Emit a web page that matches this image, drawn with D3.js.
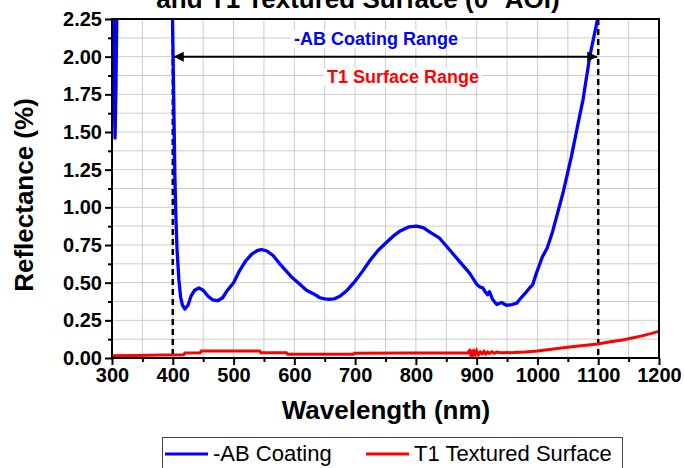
<!DOCTYPE html>
<html>
<head>
<meta charset="utf-8">
<script src="https://cdn.jsdelivr.net/npm/d3@7"></script>
<style>
  body { margin: 0; background: #fff; }
  svg { display: block; font-family: Arial, "Liberation Sans", sans-serif; }
</style>
</head>
<body>
<div class="container"></div>
<script>
var SVG_WIDTH = 684, SVG_HEIGHT = 468;

// -AB coating reflectance (wavelength nm, %)
var coatingWl = [300, 302, 303.5, 305, 306.5, 308, 312, 396, 399, 400.5, 402, 403.5, 405, 407, 410, 413, 416, 420,
  425, 430, 436, 443, 450, 458, 466, 474, 482, 490, 500, 510, 520, 530, 540, 546, 555, 565, 575, 585, 595,
  609, 620, 632, 642, 650, 657, 665, 675, 687, 699, 712, 725, 738, 751, 763, 775, 788, 801, 812, 825, 839,
  855, 872, 888, 900, 906, 910, 914, 918, 921, 926, 933, 941, 949, 958, 966, 971, 980, 988, 992, 998,
  1008, 1016, 1025, 1033, 1042, 1056, 1067, 1075, 1086, 1099, 1103];
var coatingR = [3.0, 2.3, 1.8, 1.46, 1.8, 2.3, 3.2, 3.2, 2.4, 2.0, 1.6, 1.2, 0.95, 0.72, 0.52, 0.40, 0.35, 0.325,
  0.35, 0.41, 0.45, 0.465, 0.45, 0.41, 0.385, 0.38, 0.40, 0.45, 0.50, 0.58, 0.645, 0.69, 0.715, 0.72, 0.71, 0.68, 0.63, 0.585, 0.54,
  0.49, 0.45, 0.425, 0.40, 0.392, 0.39, 0.392, 0.41, 0.45, 0.505, 0.575, 0.65, 0.715, 0.765, 0.81, 0.845, 0.87, 0.875, 0.865, 0.83, 0.795,
  0.72, 0.64, 0.565, 0.49, 0.47, 0.465, 0.44, 0.42, 0.44, 0.39, 0.355, 0.368, 0.35, 0.355, 0.364, 0.39, 0.43, 0.47, 0.485, 0.56,
  0.67, 0.73, 0.84, 0.96, 1.095, 1.34, 1.56, 1.715, 2.0, 2.25, 2.35];

// T1 textured surface reflectance
var surfaceWl = [300, 340, 380, 418, 420, 445, 447, 543, 545, 587, 589, 697, 699, 790, 885,
  888, 890, 892, 894, 896, 898, 900, 903, 906, 909, 912, 915, 918, 921, 925, 929, 933,
  940, 960, 980, 1000, 1020, 1036, 1060, 1080, 1099, 1120, 1140, 1152, 1170, 1185, 1198, 1200];
var surfaceR = [0.015, 0.017, 0.02, 0.022, 0.033, 0.035, 0.047, 0.047, 0.035, 0.035, 0.025, 0.025, 0.031, 0.033, 0.033,
  0.048, 0.022, 0.055, 0.018, 0.043, 0.026, 0.047, 0.022, 0.04, 0.028, 0.043, 0.026, 0.04, 0.03, 0.041, 0.031, 0.039,
  0.035, 0.036, 0.04, 0.047, 0.056, 0.065, 0.077, 0.085, 0.093, 0.108, 0.12, 0.13, 0.145, 0.16, 0.175, 0.178];

var xTicks = [300, 400, 500, 600, 700, 800, 900, 1000, 1100, 1200];
var yTicks = [0, 0.25, 0.5, 0.75, 1.0, 1.25, 1.5, 1.75, 2.0, 2.25];
var rangeLimits = [400, 1100];
var seriesNames = ["-AB Coating", "T1 Textured Surface"];

var PLOT_L = 112, PLOT_T = 19, PLOT_R = 659, PLOT_B = 358;

var svg = d3.select(".container").append("svg")
    .attr("width", SVG_WIDTH)
    .attr("height", SVG_HEIGHT);

var x = d3.scaleLinear().domain([300, 1200]).range([PLOT_L, PLOT_R]);
var y = d3.scaleLinear().domain([0, 2.25]).range([PLOT_B, PLOT_T]);

svg.append("clipPath").attr("id", "plot-clip")
  .append("rect")
    .attr("x", PLOT_L).attr("y", PLOT_T)
    .attr("width", PLOT_R - PLOT_L).attr("height", PLOT_B - PLOT_T);

// grid
var grid = svg.append("g").attr("stroke", "#cccccc").attr("stroke-width", 1);
grid.selectAll("line.v").data(d3.range(350, 1200, 50)).enter().append("line")
    .attr("x1", function (d) { return x(d); }).attr("x2", function (d) { return x(d); })
    .attr("y1", PLOT_T).attr("y2", PLOT_B);
grid.selectAll("line.h").data(d3.range(0.125, 2.25, 0.125)).enter().append("line")
    .attr("y1", function (d) { return y(d); }).attr("y2", function (d) { return y(d); })
    .attr("x1", PLOT_L).attr("x2", PLOT_R);

// range markers
svg.selectAll("line.limit").data(rangeLimits).enter().append("line")
    .attr("x1", function (d) { return x(d); }).attr("x2", function (d) { return x(d); })
    .attr("y1", PLOT_T).attr("y2", PLOT_B)
    .attr("stroke", "#000").attr("stroke-width", 2.5)
    .attr("stroke-dasharray", "6,4");

var line = d3.line()
    .x(function (d) { return x(d[0]); })
    .y(function (d) { return y(d[1]); });

var plot = svg.append("g").attr("clip-path", "url(#plot-clip)");
plot.append("path")
    .datum(d3.zip(surfaceWl, surfaceR))
    .attr("fill", "none").attr("stroke", "#ff0000").attr("stroke-width", 3)
    .attr("d", line);
plot.append("path")
    .datum(d3.zip(coatingWl, coatingR))
    .attr("fill", "none").attr("stroke", "#0000ff").attr("stroke-width", 3.3)
    .attr("stroke-linejoin", "round")
    .attr("d", line);

// double arrow
var defs = svg.append("defs");
defs.append("marker").attr("id", "head")
    .attr("viewBox", "0 0 10 10").attr("refX", 10).attr("refY", 5)
    .attr("markerWidth", 7).attr("markerHeight", 5)
    .attr("markerUnits", "strokeWidth")
    .attr("orient", "auto-start-reverse")
  .append("path").attr("d", "M0,0L10,5L0,10Z").attr("fill", "#000");

svg.append("line")
    .attr("x1", x(rangeLimits[0]) + 1).attr("x2", x(rangeLimits[1]) - 1)
    .attr("y1", y(2.0)).attr("y2", y(2.0))
    .attr("stroke", "#000").attr("stroke-width", 2)
    .attr("marker-start", "url(#head)").attr("marker-end", "url(#head)");

function boxedLabel(text, cx, cy, color) {
  var g = svg.append("g");
  var bg = g.append("rect").attr("fill", "#fff");
  var t = g.append("text")
      .attr("x", cx).attr("y", cy)
      .attr("text-anchor", "middle").attr("dominant-baseline", "central")
      .attr("font-size", 18).attr("font-weight", "bold")
      .attr("fill", color).text(text);
  var b = t.node().getBBox();
  bg.attr("x", b.x - 3).attr("y", b.y + 1).attr("width", b.width + 6).attr("height", b.height - 2);
}
boxedLabel("-AB Coating Range", 376, 39, "#0000ff");
boxedLabel("T1 Surface Range", 403, 77, "#ff0000");

// frame
svg.append("rect")
    .attr("x", PLOT_L).attr("y", PLOT_T)
    .attr("width", PLOT_R - PLOT_L).attr("height", PLOT_B - PLOT_T)
    .attr("fill", "none").attr("stroke", "#000").attr("stroke-width", 2);

// axes
svg.append("g").attr("transform", "translate(0," + PLOT_B + ")")
    .call(d3.axisBottom(x).tickValues(xTicks).tickSize(7).tickPadding(3).tickFormat(d3.format("d")));
svg.append("g").attr("transform", "translate(0," + PLOT_B + ")")
    .call(d3.axisBottom(x).tickValues(d3.range(350, 1200, 100)).tickSize(4).tickFormat(""));
svg.append("g").attr("transform", "translate(" + PLOT_L + ",0)")
    .call(d3.axisLeft(y).tickValues(yTicks).tickSize(7).tickPadding(3).tickFormat(d3.format(".2f")));
svg.append("g").attr("transform", "translate(" + PLOT_L + ",0)")
    .call(d3.axisLeft(y).tickValues(d3.range(0.125, 2.25, 0.25)).tickSize(4).tickFormat(""));

svg.selectAll(".domain").remove();
svg.selectAll(".tick line").attr("stroke", "#000").attr("stroke-width", 2);
svg.selectAll(".tick text")
    .attr("font-family", "Arial, 'Liberation Sans', sans-serif")
    .attr("font-size", 20).attr("font-weight", "bold").attr("fill", "#000");

// titles
svg.append("text")
    .attr("x", 358).attr("y", 8)
    .attr("text-anchor", "middle")
    .attr("font-size", 26).attr("font-weight", "bold")
    .text("and T1 Textured Surface (0° AOI)");
svg.append("text")
    .attr("x", 386).attr("y", 419)
    .attr("text-anchor", "middle")
    .attr("font-size", 26).attr("font-weight", "bold")
    .text("Wavelength (nm)");
svg.append("text")
    .attr("transform", "translate(33,195) rotate(-90)")
    .attr("text-anchor", "middle")
    .attr("font-size", 26).attr("font-weight", "bold")
    .text("Reflectance (%)");

// legend
var legend = svg.append("g");
legend.append("rect")
    .attr("x", 162.5).attr("y", 437.5).attr("width", 460).attr("height", 40)
    .attr("fill", "#fff").attr("stroke", "#444").attr("stroke-width", 1);
var legendColors = ["#0000ff", "#ff0000"];
var legendX = [165, 366];
legend.selectAll("line.key").data(seriesNames).enter().append("line")
    .attr("x1", function (d, i) { return legendX[i]; })
    .attr("x2", function (d, i) { return legendX[i] + 43; })
    .attr("y1", 454).attr("y2", 454)
    .attr("stroke", function (d, i) { return legendColors[i]; })
    .attr("stroke-width", 3);
legend.selectAll("text.key").data(seriesNames).enter().append("text")
    .attr("x", function (d, i) { return legendX[i] + 48; })
    .attr("y", 461)
    .attr("font-size", 22)
    .text(function (d) { return d; });
</script>
</body>
</html>
